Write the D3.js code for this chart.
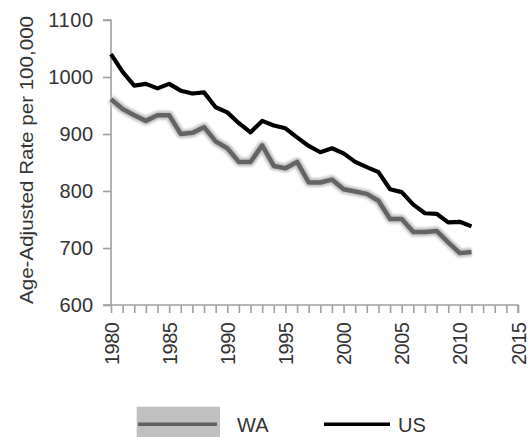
<!DOCTYPE html>
<html><head><meta charset="utf-8">
<script src="https://cdn.jsdelivr.net/npm/d3@7"></script>
<style>
body{margin:0;background:#fff;}
text{font-family:"Liberation Sans",Arial,sans-serif;fill:#333;}
</style></head>
<body>
<svg id="chart" width="528" height="437"></svg>
<script>
const years = [1980,1981,1982,1983,1984,1985,1986,1987,1988,1989,1990,1991,1992,1993,1994,1995,1996,1997,1998,1999,2000,2001,2002,2003,2004,2005,2006,2007,2008,2009,2010,2011];
const usValues = [1040,1009,985,988,980,988,976,971,973,947,938,919,903,923,915,910,894,879,868,875,866,851,842,833,803,798,776,761,760,745,746,738];
const waValues = [961,944,933,923,933,933,900,902,912,887,875,851,851,880,844,840,851,815,815,820,803,799,795,783,751,751,728,728,730,710,691,693];
const yTicks = [600,700,800,900,1000,1100];
const xTicks = d3.range(1980,2016);
const xLabels = [1980,1985,1990,1995,2000,2005,2010,2015];
const seriesNames = ["WA","US"];
const yTitle = "Age-Adjusted Rate per 100,000";

const svg = d3.select("#chart");
const x = d3.scaleLinear().domain([1980,2015]).range([111,518]);
const y = d3.scaleLinear().domain([600,1100]).range([305,20]);

const defs = svg.append("defs");
defs.append("filter").attr("id","blur").append("feGaussianBlur").attr("stdDeviation",1.2);

// axes
const axisColor = "#a0a0a0";
const yAxis = svg.append("g").attr("transform","translate(111,0)")
  .call(d3.axisLeft(y).tickValues(yTicks).tickSize(8).tickPadding(10).tickFormat(d3.format("d")));
const xAxis = svg.append("g").attr("transform","translate(0,305)")
  .call(d3.axisBottom(x).tickValues(xTicks).tickSize(8).tickFormat(d => xLabels.includes(d) ? d : ""));
[yAxis,xAxis].forEach(g=>{
  g.select(".domain").attr("stroke",axisColor).attr("stroke-width",1.6);
  g.selectAll(".tick line").attr("stroke",axisColor).attr("stroke-width",1.6);
  g.selectAll("text").style("font-size","20px").attr("fill","#333");
});
yAxis.selectAll(".tick text").attr("textLength",d => String(d).length*11.2).attr("lengthAdjust","spacing");
yAxis.select(".domain").attr("d","M-8,20H0V305");
xAxis.select(".domain").attr("d","M" + (111-8) + ",0H518V8");
xAxis.selectAll(".tick text")
  .attr("transform","rotate(-90)")
  .attr("text-anchor","end")
  .attr("x",-17).attr("y",0).attr("dy","0.35em")
  .attr("textLength",d => xLabels.includes(d) ? 43 : null).attr("lengthAdjust","spacing");

// lines
const line = d3.line().x((d,i)=>x(years[i])).y(d=>y(d));
svg.append("path").datum(waValues).attr("d",line)
  .attr("fill","none").attr("stroke","#c4c4c4").attr("stroke-width",9)
  .attr("stroke-linejoin","round").attr("filter","url(#blur)");
svg.append("path").datum(waValues).attr("d",line)
  .attr("fill","none").attr("stroke","#646464").attr("stroke-width",4.5)
  .attr("stroke-linejoin","round");
svg.append("path").datum(usValues).attr("d",line)
  .attr("fill","none").attr("stroke","#000").attr("stroke-width",4.2)
  .attr("stroke-linejoin","round");

// y title
svg.append("text").attr("transform","translate(26,160) rotate(-90)")
  .attr("text-anchor","middle").attr("dy","0.35em")
  .attr("textLength",288).attr("lengthAdjust","spacingAndGlyphs")
  .style("font-size","19px").text(yTitle);

// legend
const lg = svg.append("g");
lg.append("rect").attr("x",136.7).attr("y",406.7).attr("width",83.3).attr("height",32).attr("fill","#c0c0c0");
lg.append("line").attr("x1",138).attr("x2",217).attr("y1",424.3).attr("y2",424.3).attr("stroke","#606060").attr("stroke-width",3.5);
lg.append("text").attr("x",237).attr("y",424.3).attr("dy","0.36em").style("font-size","20px").text(seriesNames[0]);
lg.append("line").attr("x1",324).attr("x2",390).attr("y1",424.3).attr("y2",424.3).attr("stroke","#000").attr("stroke-width",3.5);
lg.append("text").attr("x",398).attr("y",424.3).attr("dy","0.36em").style("font-size","20px").text(seriesNames[1]);
</script>
</body></html>
